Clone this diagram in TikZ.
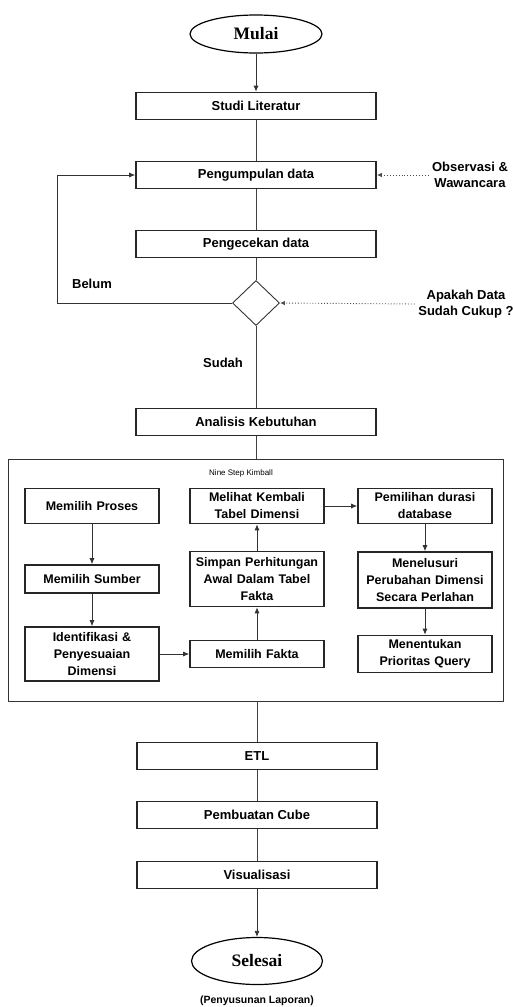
\documentclass[tikz,border=0pt]{standalone}
\usepackage{fontspec}
\setmainfont{Liberation Serif}
\setsansfont{Liberation Sans}
\usetikzlibrary{shapes}
\usetikzlibrary{arrows.meta}

\begin{document}
\begin{tikzpicture}[x=1pt,y=-1pt]

  \tikzset{proses/.style = {shape=rectangle,draw=black!85,line width=1.6pt,minimum width=240pt,minimum height=27pt,font=\fontsize{13}{16}\selectfont\sffamily\bfseries}}
  \tikzset{langkah/.style = {shape=rectangle,draw=black!85,line width=1.6pt,text width=126pt,align=center,minimum width=134pt,font=\fontsize{12.5}{17}\selectfont\sffamily\bfseries}}
  \tikzset{terminal/.style = {shape=ellipse,draw=black,line width=1.2pt,minimum width=132pt,font=\fontsize{17.5}{20}\selectfont\rmfamily\bfseries}}
  \tikzset{label/.style = {align=center,font=\fontsize{13}{16}\selectfont\sffamily\bfseries}}
  \tikzset{edge/.style = {-{Latex[length=6pt,width=5pt]},line width=0.8pt,draw=black!80}}
  \tikzset{line/.style = {line width=0.8pt,draw=black!75}}
  \tikzset{input/.style = {-{Latex[length=5pt,width=4.5pt]},line width=0.9pt,dotted,draw=black!70}}
  \useasboundingbox (0,0) rectangle (513,1007);
  % vertices
  \node[terminal,minimum height=38pt] (mulai) at (256,34) {Mulai};
  \node[proses] (studi) at (256,106) {Studi Literatur};
  \node[proses] (kumpul) at (256,175) {Pengumpulan data};
  \node[proses] (cek) at (256,244) {Pengecekan data};
  \node[shape=diamond,draw=black!80,line width=0.9pt,minimum width=47pt,minimum height=45pt,inner sep=0pt] (cukup) at (256,303) {};
  \node[label] (belum) at (92,284) {Belum};
  \node[label] (sudah) at (223,363) {Sudah};
  \node[label] (obs) at (470,175) {Observasi \&\\Wawancara};
  \node[label] (apakah) at (466,304) {Apakah Data\\Sudah Cukup ?};
  \node[proses] (analisis) at (256,422) {Analisis Kebutuhan};
  \node[draw=black!80,line width=0.8pt,minimum width=495pt,minimum height=242pt] (kimball) at (255.5,580) {};
  \node[font=\fontsize{8}{10}\selectfont\sffamily] (judul) at (241,473) {Nine Step Kimball};
  \node[langkah,minimum height=35pt] (proses) at (92,506) {Memilih Proses};
  \node[langkah,minimum height=28pt] (sumber) at (92,579) {Memilih Sumber};
  \node[langkah,minimum height=54pt] (dimensi) at (92,654) {Identifikasi \&\\Penyesuaian\\Dimensi};
  \node[langkah,minimum height=27pt] (fakta) at (257,654) {Memilih Fakta};
  \node[langkah,minimum height=55pt] (simpan) at (257,579) {Simpan Perhitungan Awal Dalam Tabel\\Fakta};
  \node[langkah,minimum height=35pt] (melihat) at (257,506) {Melihat Kembali\\Tabel Dimensi};
  \node[langkah,minimum height=35pt] (durasi) at (425,506) {Pemilihan durasi\\database};
  \node[langkah,minimum height=56pt] (telusur) at (425,580) {Menelusuri\\Perubahan Dimensi\\Secara Perlahan};
  \node[langkah,minimum height=37pt] (query) at (425,654) {Menentukan\\Prioritas Query};
  \node[proses] (etl) at (257,756) {ETL};
  \node[proses] (cube) at (257,815) {Pembuatan Cube};
  \node[proses] (visual) at (257,875) {Visualisasi};
  \node[terminal,minimum width=131pt,minimum height=47pt] (selesai) at (257,961) {Selesai};
  \node[font=\fontsize{10.5}{12}\selectfont\sffamily\bfseries] (laporan) at (257,1001) {(Penyusunan Laporan)};
  \coordinate (balik) at (57,303);
  %edges
  \draw[edge] (mulai) -- (studi);
  \draw[line] (studi) -- (kumpul);
  \draw[line] (kumpul) -- (cek);
  \draw[line] (cek) -- (cukup);
  \draw[edge] (cukup.west) -- (balik) |- (kumpul.west);
  \draw[input] (obs.west) -- (kumpul.east);
  \draw[input] (apakah.west) -- (cukup.east);
  \draw[line] (cukup) -- (analisis);
  \draw[line] (analisis) -- (analisis |- kimball.north);
  \draw[edge] (proses) -- (sumber);
  \draw[edge] (sumber) -- (dimensi);
  \draw[edge] (dimensi.east |- fakta) -- (fakta);
  \draw[edge] (fakta) -- (simpan);
  \draw[edge] (simpan) -- (melihat);
  \draw[edge] (melihat) -- (durasi);
  \draw[edge] (durasi) -- (telusur);
  \draw[edge] (telusur) -- (query);
  \draw[line] (etl |- kimball.south) -- (etl);
  \draw[line] (etl) -- (cube);
  \draw[line] (cube) -- (visual);
  \draw[edge] (visual) -- (selesai);
\end{tikzpicture}
\end{document}
